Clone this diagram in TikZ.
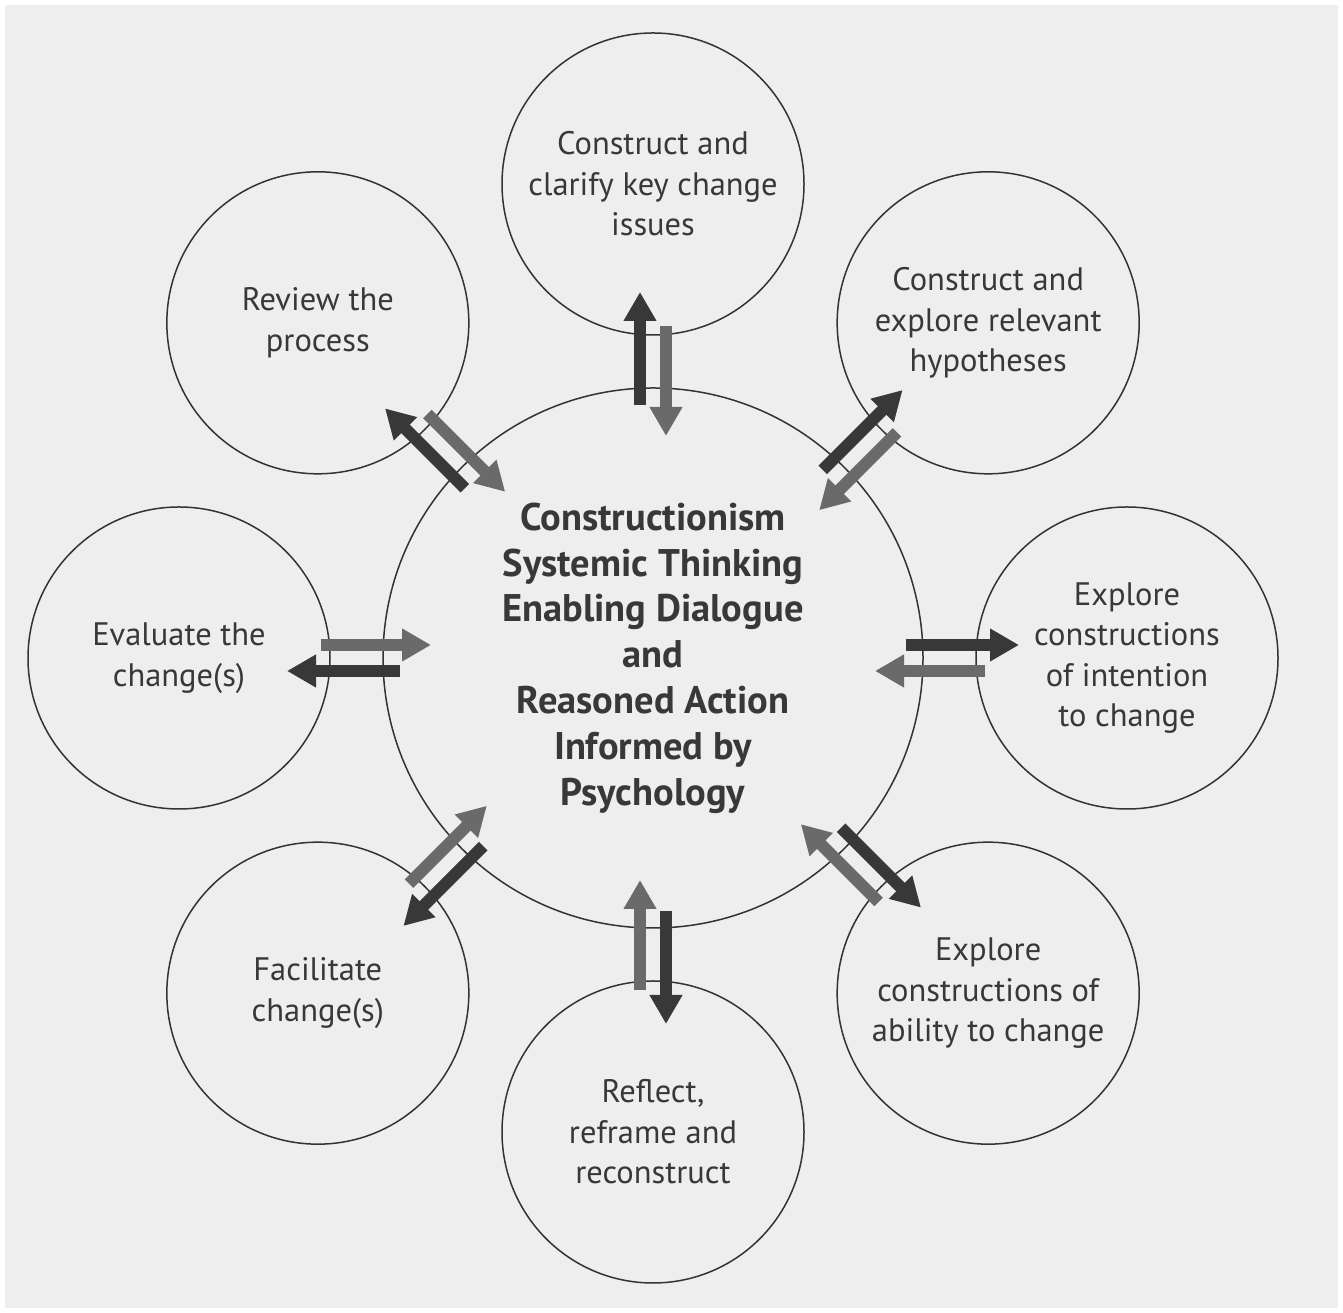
\documentclass[tikz,border=0pt]{standalone}
\usepackage{fontspec}
\setmainfont{PT Sans}
\usetikzlibrary{calc,arrows.meta}
\definecolor{bg}{HTML}{EEEEEE}
\definecolor{ink}{HTML}{333333}
\definecolor{txt}{HTML}{383838}
\definecolor{outc}{HTML}{383838}
\definecolor{inc}{HTML}{6A6A6A}
\tikzset{
  outer/.style={circle,draw=ink,line width=1.5pt,minimum size=302pt,inner sep=0pt,align=center,text=txt,font=\fontsize{32.5}{40.5}\selectfont},
  hub/.style={circle,draw=ink,line width=1.5pt,minimum size=540pt,inner sep=0pt,align=center,text=txt,font=\fontsize{38.5}{45.8}\selectfont\bfseries},
  outarrow/.style={draw=outc,line width=12pt,-{Triangle[width=31pt,length=29pt]}},
  inarrow/.style={draw=inc,line width=12pt,-{Triangle[width=31pt,length=29pt]}}
}
\begin{document}
\begin{tikzpicture}[x=1pt,y=1pt]
\useasboundingbox (0,0) rectangle (1343,1313);
\fill[white] (0,0) rectangle (1343,1313);
\fill[bg] (5,5) rectangle (1338,1308);
\coordinate (c) at (653,655);
\node[hub] (hub) at (c) {Constructionism\\Systemic Thinking\\Enabling Dialogue\\and\\Reasoned Action\\Informed by\\Psychology};
\node[outer] (n1) at ($(c)+(90:474)$) {Construct and\\clarify key change\\issues};
\node[outer] (n2) at ($(c)+(45:474)$) {Construct and\\explore relevant\\hypotheses};
\node[outer] (n3) at ($(c)+(0:474)$) {Explore\\constructions\\of intention\\to change};
\node[outer] (n4) at ($(c)+(-45:474)$) {Explore\\constructions of\\ability to change};
\node[outer] (n5) at ($(c)+(-90:474)$) {Reflect,\\reframe and\\reconstruct};
\node[outer] (n6) at ($(c)+(-135:474)$) {Facilitate\\change(s)};
\node[outer] (n7) at ($(c)+(180:474)$) {Evaluate the\\change(s)};
\node[outer] (n8) at ($(c)+(135:474)$) {Review the\\process};
\foreach \i in {1,...,8}{
  \draw[outarrow] ($(hub.center)!253pt!(n\i.center)!13pt!90:(n\i.center)$) -- ($(hub.center)!366pt!(n\i.center)!13pt!90:(n\i.center)$);
  \draw[inarrow] ($(hub.center)!332pt!(n\i.center)!13pt!-90:(n\i.center)$) -- ($(hub.center)!222pt!(n\i.center)!13pt!-90:(n\i.center)$);
}
\end{tikzpicture}
\end{document}
